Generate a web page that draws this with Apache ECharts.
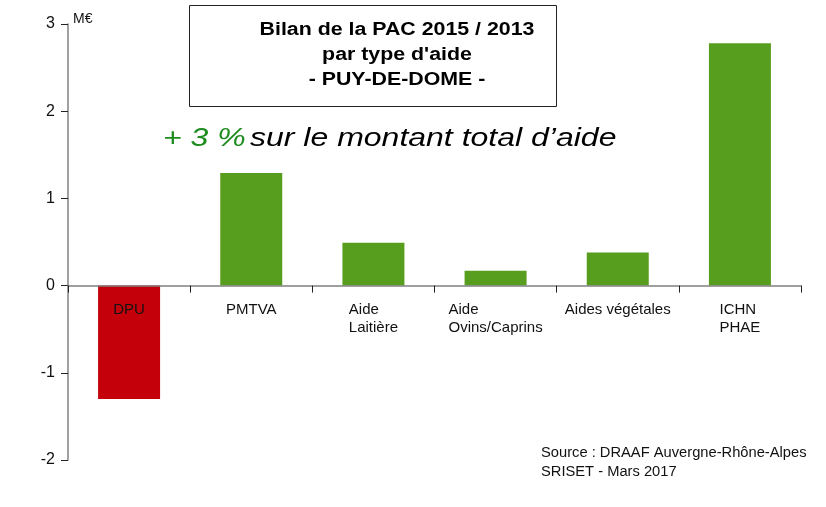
<!DOCTYPE html>
<html>
<head>
<meta charset="utf-8">
<script src="https://cdn.jsdelivr.net/npm/echarts@6/dist/echarts.min.js"></script>
<style>
  html, body { margin: 0; padding: 0; background: #fff; }
  #chart { width: 826px; height: 507px; }
</style>
</head>
<body>
<div id="chart"></div>
<script>
// aid types and the 2015 vs 2013 difference, in M€
const categories = ['DPU', 'PMTVA', 'Aide\nLaitière', 'Aide\nOvins/Caprins', 'Aides végétales', 'ICHN\nPHAE']
const values = [-1.3, 1.29, 0.49, 0.17, 0.38, 2.78]
const yMin = -2
const yMax = 3
const yStep = 1

const titleLines = ['Bilan de la PAC 2015 / 2013', "par type d'aide", '- PUY-DE-DOME -']
const sourceLines = ['Source : DRAAF Auvergne-Rhône-Alpes', 'SRISET - Mars 2017']

const FONT = '"Liberation Sans", Arial, sans-serif'
const RED = '#c4000b'
const GREEN = '#579e1e'

const gridTop = 24
const gridBottom = 47
const gridHeight = 507 - gridTop - gridBottom
// move the category axis (line, ticks and labels) up to the value 0
const zeroOffset = gridHeight * (0 - yMin) / (yMax - yMin)

let myChart = echarts.init(document.getElementById('chart'))

let option = {
    animation: false,
    backgroundColor: '#fff',
    textStyle: { fontFamily: FONT },
    grid: { left: 68, right: 25, top: gridTop, bottom: gridBottom, containLabel: false },
    xAxis: {
        type: 'category',
        data: categories,
        z: 5,
        offset: -zeroOffset,
        axisLine: { onZero: false, lineStyle: { color: '#808080', width: 1.5 } },
        axisTick: { show: true, length: 7, inside: false, lineStyle: { color: '#222' } },
        axisLabel: {
            interval: 0,
            margin: 15,
            formatter: function (v) {
                return v.split('\n').map(function (s) { return '{l|' + s + '}' }).join('\n')
            },
            rich: {
                l: { align: 'left', fontSize: 15, lineHeight: 18, color: '#111', fontFamily: FONT }
            }
        }
    },
    yAxis: {
        type: 'value',
        min: yMin,
        max: yMax,
        interval: yStep,
        name: 'M€',
        nameLocation: 'end',
        nameGap: 2,
        nameTextStyle: { align: 'left', verticalAlign: 'bottom', fontSize: 14, color: '#111', padding: [0, 0, -4, 5] },
        splitLine: { show: false },
        axisLine: { show: true, lineStyle: { color: '#808080', width: 1.5 } },
        axisTick: { show: true, length: 7, lineStyle: { color: '#222' } },
        axisLabel: { fontSize: 16, color: '#111', margin: 13 }
    },
    series: [
        {
            type: 'bar',
            data: values,
            barWidth: 62,
            itemStyle: {
                color: function (p) { return p.value < 0 ? RED : GREEN }
            }
        }
    ],
    graphic: [
        {
            type: 'rect',
            left: 189,
            top: 5,
            shape: { width: 367, height: 101 },
            style: { fill: '#fff', stroke: '#222', lineWidth: 1 }
        },
        {
            type: 'text',
            x: 397,
            y: 55,
            scaleX: 1.22,
            style: {
                text: titleLines.join('\n'),
                align: 'center',
                verticalAlign: 'middle',
                font: 'bold 17.5px ' + FONT,
                lineHeight: 25,
                fill: '#000'
            }
        },
        {
            type: 'text',
            x: 163,
            y: 139,
            scaleX: 1.28,
            style: {
                text: '{g|+ 3 %} {b|sur le montant total d’aide}',
                verticalAlign: 'middle',
                rich: {
                    g: { fontSize: 25, fontStyle: 'italic', fontFamily: FONT, fill: '#1e8c1e', color: '#1e8c1e' },
                    b: { fontSize: 25, fontStyle: 'italic', fontFamily: FONT, fill: '#000', color: '#000' }
                }
            }
        },
        {
            type: 'text',
            x: 541,
            y: 444,
            scaleX: 1.05,
            style: {
                text: sourceLines.join('\n'),
                verticalAlign: 'top',
                font: '14px ' + FONT,
                lineHeight: 19,
                fill: '#111'
            }
        }
    ]
}

myChart.setOption(option)
</script>
</body>
</html>
